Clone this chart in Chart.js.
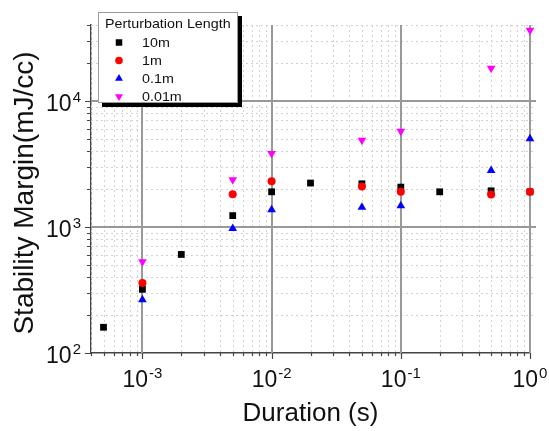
<!DOCTYPE html>
<html lang="en">
<head>
    <meta charset="UTF-8">
    <title>Stability Margin vs Duration</title>
    <script src="https://cdn.jsdelivr.net/npm/chart.js"></script>
    <style>
        * {
            margin: 0;
            padding: 0;
        }

        body {
            background-color: #ffffff;
        }

        #chart {
            display: block;
        }
    </style>
</head>
<body>
    <canvas id="chart" width="549" height="431"></canvas>

    <script>
        // Data
        const seriesLabels = ['10m', '1m', '0.1m', '0.01m'];
        const durations10m = [5e-4, 1e-3, 2e-3, 5e-3, 1e-2, 2e-2, 5e-2, 1e-1, 2e-1, 5e-1, 1];
        const margin10m = [160, 320, 605, 1230, 1900, 2230, 2200, 2070, 1900, 1935, 1900];
        const durationsShort = [1e-3, 5e-3, 1e-2, 5e-2, 1e-1, 5e-1, 1];
        const margin1m = [360, 1820, 2300, 2095, 1900, 1810, 1900];
        const margin01m = [265, 970, 1366, 1436, 1470, 2810, 5000];
        const margin001m = [530, 2370, 3820, 4870, 5750, 18150, 36400];

        // Axis ranges and labelled decades
        const xMin = 4e-4, xMax = 1;
        const yMin = 100, yMax = 40000;
        const xTickExps = [-3, -2, -1, 0];
        const yTickExps = [2, 3, 4];

        const FONT = 'Arial, "Liberation Sans", sans-serif';

        function toPoints(xs, ys) {
            return xs.map((v, i) => ({ x: v, y: ys[i] }));
        }

        // every 1..9 x 10^n value inside a range
        function logSteps(min, max) {
            const out = [];
            for (let e = Math.floor(Math.log10(min)); e <= Math.ceil(Math.log10(max)); e++) {
                for (let m = 1; m <= 9; m++) {
                    const v = m * Math.pow(10, e);
                    if (v >= min * 0.999 && v <= max * 1.001) out.push({ v: v, major: m === 1 });
                }
            }
            return out;
        }

        function drawMarker(ctx, style, x, y, r, color, rot) {
            ctx.save();
            ctx.fillStyle = color;
            ctx.beginPath();
            if (style === 'rect') {
                const s = r / Math.SQRT2;
                ctx.rect(x - s, y - s, 2 * s, 2 * s);
            } else if (style === 'circle') {
                ctx.arc(x, y, r, 0, Math.PI * 2);
            } else {
                const a = (rot || 0) * Math.PI / 180;
                for (let k = 0; k < 3; k++) {
                    const t = a + k * 2 * Math.PI / 3;
                    const px = x + Math.sin(t) * r, py = y - Math.cos(t) * r;
                    if (k === 0) ctx.moveTo(px, py); else ctx.lineTo(px, py);
                }
                ctx.closePath();
            }
            ctx.fill();
            ctx.restore();
        }

        // "10" with a raised exponent
        function drawPower(ctx, exp, x, baseline, align) {
            ctx.font = '23px ' + FONT;
            const wBase = ctx.measureText('10').width;
            ctx.font = '15px ' + FONT;
            const wExp = ctx.measureText(String(exp)).width;
            const total = wBase + wExp + 1;
            const start = align === 'center' ? x - total / 2 : x - total;
            ctx.fillStyle = '#111';
            ctx.textAlign = 'left';
            ctx.textBaseline = 'alphabetic';
            ctx.font = '23px ' + FONT;
            ctx.fillText('10', start, baseline);
            ctx.font = '15px ' + FONT;
            ctx.fillText(String(exp), start + wBase + 1, baseline - 9);
        }

        const logDecor = {
            id: 'logDecor',
            beforeDatasetsDraw(chart) {
                const { ctx, chartArea: a, scales: { x, y } } = chart;
                const xs = logSteps(xMin, xMax);
                const ys = logSteps(yMin, yMax);
                ctx.save();

                // minor grid, dotted
                ctx.strokeStyle = '#d2d2d2';
                ctx.lineWidth = 1;
                ctx.setLineDash([2, 3]);
                ctx.beginPath();
                xs.filter(t => !t.major).forEach(t => {
                    const px = Math.round(x.getPixelForValue(t.v)) + 0.5;
                    ctx.moveTo(px, a.top);
                    ctx.lineTo(px, a.bottom);
                });
                ys.filter(t => !t.major).forEach(t => {
                    const py = Math.round(y.getPixelForValue(t.v)) + 0.5;
                    ctx.moveTo(a.left, py);
                    ctx.lineTo(a.right + 6, py);
                });
                ctx.stroke();

                // major grid, solid
                ctx.setLineDash([]);
                ctx.strokeStyle = '#999999';
                ctx.lineWidth = 2;
                ctx.beginPath();
                xs.filter(t => t.major).forEach(t => {
                    const px = Math.round(x.getPixelForValue(t.v));
                    ctx.moveTo(px, a.top);
                    ctx.lineTo(px, a.bottom);
                });
                ys.filter(t => t.major && t.v > yMin).forEach(t => {
                    const py = Math.round(y.getPixelForValue(t.v));
                    ctx.moveTo(a.left, py);
                    ctx.lineTo(a.right + 6, py);
                });
                ctx.stroke();

                // outward tick marks
                ctx.strokeStyle = '#444';
                ctx.lineWidth = 1.2;
                ctx.beginPath();
                xs.forEach(t => {
                    const px = Math.round(x.getPixelForValue(t.v)) + 0.5;
                    ctx.moveTo(px, a.bottom);
                    ctx.lineTo(px, a.bottom + (t.major ? 6 : 3));
                });
                ys.forEach(t => {
                    const py = Math.round(y.getPixelForValue(t.v)) + 0.5;
                    ctx.moveTo(a.left, py);
                    ctx.lineTo(a.left - (t.major ? 6 : 4), py);
                });
                ctx.stroke();
                ctx.restore();
            },
            afterDraw(chart) {
                const { ctx, chartArea: a, scales: { x, y } } = chart;
                ctx.save();

                // tick labels
                xTickExps.forEach(e => drawPower(ctx, e, x.getPixelForValue(Math.pow(10, e)), a.bottom + 34, 'center'));
                yTickExps.forEach(e => drawPower(ctx, e, 81, y.getPixelForValue(Math.pow(10, e)) + 10, 'right'));

                // axis titles
                ctx.fillStyle = '#111';
                ctx.textAlign = 'center';
                ctx.textBaseline = 'alphabetic';
                ctx.font = '26px ' + FONT;
                ctx.fillText('Duration (s)', (a.left + a.right) / 2, 421);
                ctx.save();
                ctx.translate(33, 193);
                ctx.rotate(-Math.PI / 2);
                ctx.font = '28px ' + FONT;
                ctx.fillText('Stability Margin(mJ/cc)', 0, 0);
                ctx.restore();

                // legend box with a hard shadow
                const bx = 98, by = 12, bw = 140, bh = 91;
                ctx.fillStyle = '#000';
                ctx.fillRect(bx + 4, by + 4, bw, bh);
                ctx.fillStyle = '#fff';
                ctx.fillRect(bx, by, bw, bh);
                ctx.strokeStyle = '#9a9a9a';
                ctx.lineWidth = 1;
                ctx.strokeRect(bx + 0.5, by + 0.5, bw - 1, bh - 1);

                ctx.fillStyle = '#111';
                ctx.textAlign = 'left';
                ctx.save();
                ctx.translate(105, 28);
                ctx.scale(1.1, 1);
                ctx.font = '13px ' + FONT;
                ctx.fillText('Perturbation Length', 0, 0);
                ctx.restore();

                const rows = [47, 65, 83, 101];
                chart.data.datasets.forEach((ds, i) => {
                    drawMarker(ctx, ds.pointStyle, 119, rows[i] - 4.5, ds.pointStyle === 'circle' ? 3.8 : 4.6,
                        ds.backgroundColor, ds.rotation);
                    ctx.save();
                    ctx.translate(142, rows[i]);
                    ctx.scale(1.1, 1);
                    ctx.fillStyle = '#111';
                    ctx.font = '13px ' + FONT;
                    ctx.fillText(ds.label, 0, 0);
                    ctx.restore();
                });
                ctx.restore();
            }
        };

        const ctx = document.getElementById('chart').getContext('2d');

        new Chart(ctx, {
            type: 'scatter',
            data: {
                datasets: [
                    {
                        label: seriesLabels[0],
                        data: toPoints(durations10m, margin10m),
                        pointStyle: 'rect',
                        pointRadius: 4.8,
                        backgroundColor: '#000000',
                        borderWidth: 0,
                        clip: false,
                        order: 4
                    },
                    {
                        label: seriesLabels[1],
                        data: toPoints(durationsShort, margin1m),
                        pointStyle: 'circle',
                        pointRadius: 4,
                        backgroundColor: '#ff0000',
                        borderWidth: 0,
                        clip: false,
                        order: 3
                    },
                    {
                        label: seriesLabels[2],
                        data: toPoints(durationsShort, margin01m),
                        pointStyle: 'triangle',
                        pointRadius: 5,
                        backgroundColor: '#0000ff',
                        borderWidth: 0,
                        clip: false,
                        order: 2
                    },
                    {
                        label: seriesLabels[3],
                        data: toPoints(durationsShort, margin001m),
                        pointStyle: 'triangle',
                        rotation: 180,
                        pointRotation: 180,
                        pointRadius: 5,
                        backgroundColor: '#ff00ff',
                        borderWidth: 0,
                        clip: false,
                        order: 1
                    }
                ]
            },
            options: {
                responsive: false,
                animation: false,
                layout: {
                    padding: { left: 0, top: 25, right: 19, bottom: 0 }
                },
                plugins: {
                    legend: { display: false },
                    tooltip: { enabled: false }
                },
                scales: {
                    x: {
                        type: 'logarithmic',
                        min: xMin,
                        max: xMax,
                        grid: { display: false },
                        ticks: { display: false },
                        border: { display: true, color: '#444', width: 1.5 },
                        afterFit: s => { s.height = 78; }
                    },
                    y: {
                        type: 'logarithmic',
                        min: yMin,
                        max: yMax,
                        grid: { display: false },
                        ticks: { display: false },
                        border: { display: true, color: '#444', width: 1.5 },
                        afterFit: s => { s.width = 91; }
                    }
                }
            },
            plugins: [logDecor]
        });
    </script>
</body>
</html>
